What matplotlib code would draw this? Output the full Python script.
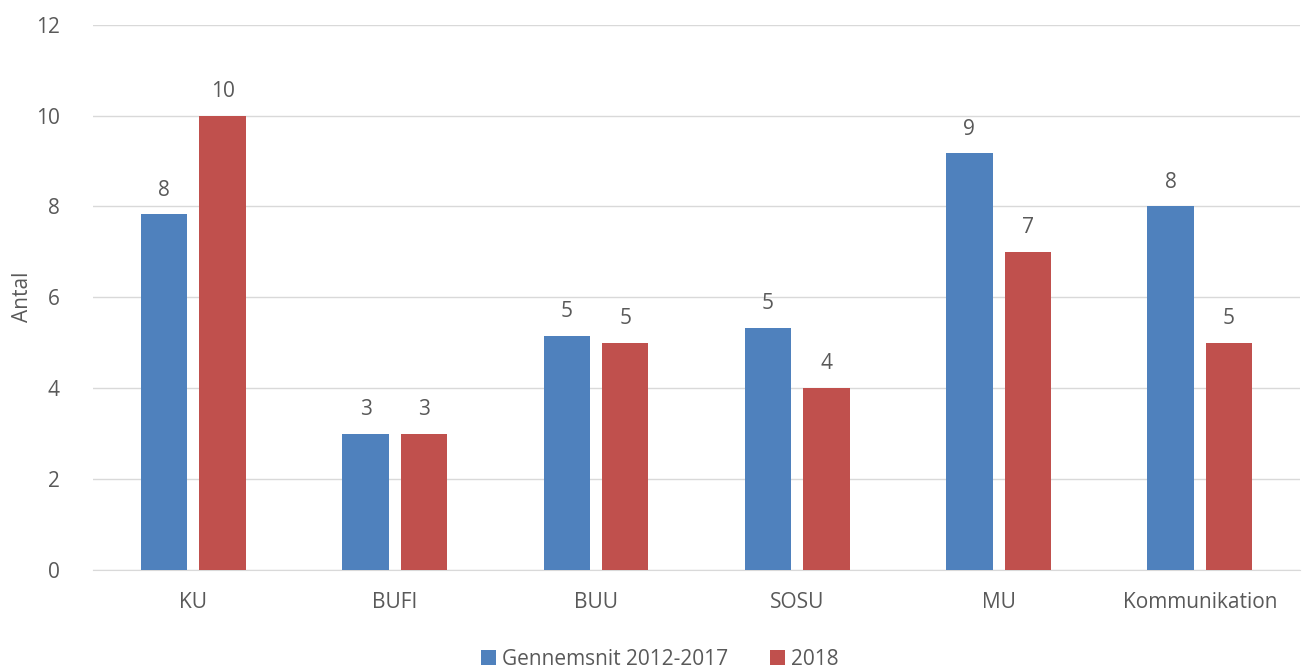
import matplotlib.pyplot as plt
import numpy as np

categories = ["KU", "BUFI", "BUU", "SOSU", "MU", "Kommunikation"]
avg_2012_2017 = [7.83, 3.0, 5.15, 5.33, 9.17, 8.0]
values_2018 = [10, 3, 5, 4, 7, 5]

blue = "#4F81BD"
red = "#C0504D"
txt = "#595959"

plt.rcParams["font.family"] = ["Open Sans", "DejaVu Sans"]
fs = 15

fig = plt.figure(figsize=(13.07, 6.68), dpi=100)
ax = fig.add_axes([0.071, 0.147, 0.924, 0.816])

x = np.arange(len(categories))
w = 0.23
gap = 0.06
b1 = ax.bar(x - (w + gap) / 2, avg_2012_2017, w, color=blue, label="Gennemsnit 2012-2017", zorder=3)
b2 = ax.bar(x + (w + gap) / 2, values_2018, w, color=red, label="2018", zorder=3)

for bars, vals in ((b1, avg_2012_2017), (b2, values_2018)):
    for rect, v in zip(bars, vals):
        ax.text(rect.get_x() + rect.get_width() / 2, v + 0.3, f"{v:.0f}",
                ha="center", va="bottom", fontsize=fs, color=txt)

ax.set_xlim(-0.5, len(categories) - 0.5)
ax.set_ylim(0, 12)
ax.set_yticks(range(0, 13, 2))
ax.set_xticks(x)
ax.set_xticklabels(categories)
ax.tick_params(axis="both", length=0, labelsize=fs, labelcolor=txt)
ax.tick_params(axis="x", pad=16)
ax.tick_params(axis="y", pad=24)
ax.grid(axis="y", color="#D9D9D9", linewidth=1, zorder=0)
for s in ["top", "right", "left"]:
    ax.spines[s].set_visible(False)
ax.spines["bottom"].set_color("#D9D9D9")
ax.set_ylabel("Antal", fontsize=fs, color=txt, labelpad=2)

fig.legend(handles=[b1, b2], loc="lower center", bbox_to_anchor=(0.505, -0.031), ncol=2,
           frameon=False, fontsize=fs, labelcolor=txt, handlelength=0.7, handleheight=0.7,
           handletextpad=0.3, columnspacing=2.0)

fig.savefig("out.png", dpi=100)
